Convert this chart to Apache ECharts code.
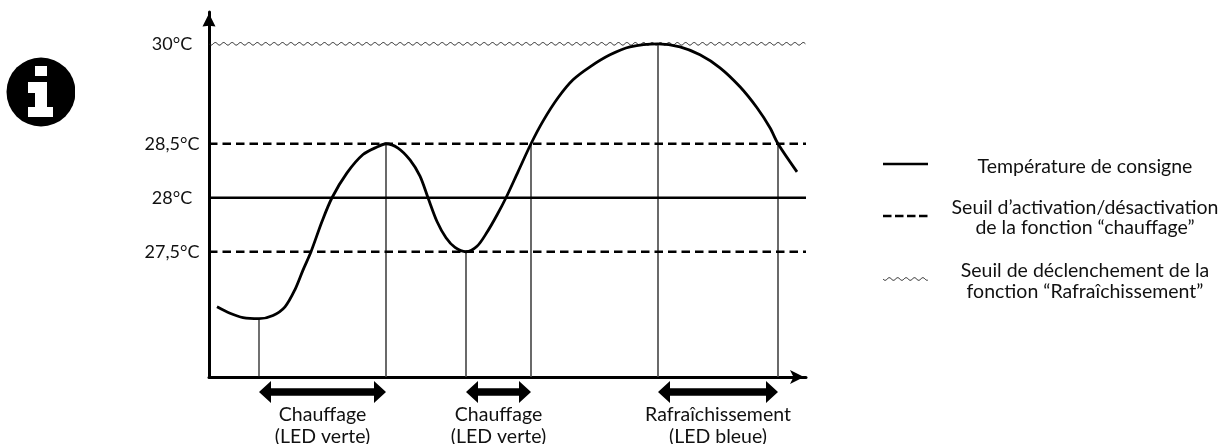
<!DOCTYPE html>
<html>
<head>
<meta charset="utf-8">
<title>Seuils de température</title>
<style>
  html, body { margin: 0; padding: 0; background: #fff; }
  #chart { width: 1223px; height: 444px; }
</style>
<script src="https://cdn.jsdelivr.net/npm/echarts@6/dist/echarts.min.js"></script>
</head>
<body>
<div id="chart"></div>
<script>
// courbe de temperature (temps arbitraire, °C)
const curveTimes = [8, 21, 34, 50, 64, 76, 86, 94, 102, 113, 123, 138, 154, 168, 177, 189, 201, 211, 219, 228, 237, 246, 257, 268, 278, 288, 297, 309, 322, 334, 349, 364, 381, 401, 421, 449, 471, 491, 511, 531, 548, 561, 569, 588];
const curveTemps = [26.99, 26.93, 26.89, 26.88, 26.91, 26.99, 27.15, 27.33, 27.5, 27.78, 28, 28.23, 28.4, 28.47, 28.5, 28.46, 28.35, 28.2, 28, 27.78, 27.63, 27.54, 27.5, 27.55, 27.68, 27.84, 28, 28.24, 28.5, 28.84, 29.19, 29.46, 29.655, 29.835, 29.955, 30, 29.955, 29.835, 29.64, 29.355, 29.04, 28.74, 28.5, 28.24];

const tickTemps = [30, 28.5, 28, 27.5];
const tickLabels = ['30°C', '28,5°C', '28°C', '27,5°C'];

const setpointTemp = 28;
const heatingTemps = [28.5, 27.5];
const coolingTemp = 30;
const lineEnd = 597;

const dropTimes = [50, 177, 257, 322, 449, 569];
const dropTemps = [26.88, 28.5, 27.5, 28.5, 30, 28.5];

const phaseStarts = [50, 257, 449];
const phaseEnds = [177, 322, 569];
const phaseNames = ['Chauffage', 'Chauffage', 'Rafraîchissement'];
const phaseLeds = ['(LED verte)', '(LED verte)', '(LED bleue)'];

const legendSolid = 'Température de consigne';
const legendDashed = 'Seuil d’activation/désactivation\nde la fonction “chauffage”';
const legendWavy = 'Seuil de déclenchement de la\nfonction “Rafraîchissement”';

const FONT = 'Lato, "Open Sans", sans-serif';
const TEXT_FONT = '19.5px ' + FONT;
const INK = '#000';
const DROP = '#444';

// l'echelle du schema n'est pas lineaire : la partie au dessus de 28,5 est tassee
const squeeze = 0.617;
const toAxis = (t) => (t <= 28.5 ? t : 28.5 + (t - 28.5) * squeeze);
const yMin = 26.34;
const yMax = 29.72;

// trace de la ligne ondulee, en pixels (purement decoratif)
const wavePoints = (x0, x1, y) => {
  const period = 8.4;
  const amp = 1.3;
  const pts = [];
  for (let x = x0; x <= x1; x += 0.7) {
    pts.push([x, y + amp * Math.sin(((x - x0) / period) * 2 * Math.PI)]);
  }
  return pts;
};

const chart = echarts.init(document.getElementById('chart'), null, { renderer: 'canvas' });

const thresholdLine = (name, t, lineStyle) => ({
  name,
  type: 'line',
  data: [[0, toAxis(t)], [lineEnd, toAxis(t)]],
  symbol: 'none',
  silent: true,
  lineStyle
});

const option = {
  animation: false,
  backgroundColor: '#fff',
  textStyle: { fontFamily: FONT },
  grid: { left: 209, top: 12, width: 597, height: 365 },
  xAxis: {
    type: 'value',
    min: 0,
    max: lineEnd,
    axisLine: {
      show: true,
      onZero: false,
      symbol: ['none', 'path://M0 20 L10 0 L20 20 L10 15 Z'],
      symbolSize: [14, 18],
      symbolOffset: [0, -9],
      lineStyle: { color: INK, width: 3 }
    },
    axisTick: { show: false },
    axisLabel: { show: false },
    splitLine: { show: false }
  },
  yAxis: {
    type: 'value',
    min: yMin,
    max: yMax,
    axisLine: {
      show: true,
      onZero: false,
      symbol: ['none', 'path://M0 20 L10 0 L20 20 L10 19 Z'],
      symbolSize: [13, 17],
      symbolOffset: [0, -8],
      lineStyle: { color: INK, width: 3 }
    },
    axisTick: { show: false },
    splitLine: { show: false },
    axisLabel: {
      customValues: tickTemps.map(toAxis),
      align: 'center',
      margin: 37,
      color: '#111',
      fontFamily: FONT,
      fontSize: 18,
      formatter: (v) => {
        const i = tickTemps.findIndex((t) => Math.abs(toAxis(t) - v) < 0.01);
        return i < 0 ? '' : tickLabels[i];
      }
    }
  },
  series: [
    thresholdLine('Température de consigne', setpointTemp, { color: INK, width: 2.5 }),
    thresholdLine('Seuil haut chauffage', heatingTemps[0], { color: INK, width: 2.5, type: [8.5, 5] }),
    thresholdLine('Seuil bas chauffage', heatingTemps[1], { color: INK, width: 2.5, type: [8.5, 5] }),
    {
      name: 'Seuil rafraîchissement',
      type: 'custom',
      silent: true,
      clip: false,
      data: [[0, toAxis(coolingTemp), lineEnd]],
      renderItem: (params, api) => {
        const a = api.coord([api.value(0), api.value(1)]);
        const b = api.coord([api.value(2), api.value(1)]);
        return {
          type: 'polyline',
          shape: { points: wavePoints(a[0], b[0], a[1]) },
          style: { fill: 'none', stroke: '#222', lineWidth: 1 }
        };
      }
    },
    {
      name: 'Repères',
      type: 'custom',
      silent: true,
      data: dropTimes.map((x, i) => [x, toAxis(dropTemps[i])]),
      renderItem: (params, api) => {
        const top = api.coord([api.value(0), api.value(1)]);
        const bottom = api.coord([api.value(0), yMin]);
        const first = params.dataIndex === 0;
        return {
          type: 'line',
          shape: { x1: top[0], y1: top[1], x2: top[0], y2: bottom[1] },
          style: { stroke: first ? '#111' : DROP, lineWidth: first ? 1.2 : 1.6 }
        };
      }
    },
    {
      name: 'Température',
      type: 'line',
      data: curveTimes.map((x, i) => [x, toAxis(curveTemps[i])]),
      smooth: 0.3,
      symbol: 'none',
      silent: true,
      lineStyle: { color: INK, width: 2.8 },
      z: 5
    },
    {
      name: 'Phases',
      type: 'custom',
      silent: true,
      clip: false,
      data: phaseStarts.map((x, i) => [x, phaseEnds[i], i]),
      renderItem: (params, api) => {
        const x0 = api.coord([api.value(0), yMin]);
        const x1 = api.coord([api.value(1), yMin]);
        const i = api.value(2);
        const y = x0[1] + 15;
        const head = 12;
        const thick = 3.7;
        const wing = 11;
        const l = x0[0];
        const r = x1[0];
        const mid = (l + r) / 2;
        return {
          type: 'group',
          children: [
            {
              type: 'polygon',
              shape: {
                points: [
                  [l, y], [l + head, y - wing], [l + head, y - thick], [r - head, y - thick], [r - head, y - wing],
                  [r, y], [r - head, y + wing], [r - head, y + thick], [l + head, y + thick], [l + head, y + wing]
                ]
              },
              style: { fill: INK }
            },
            {
              type: 'text',
              style: {
                x: mid,
                y: x0[1] + 38,
                text: phaseNames[i],
                align: 'center',
                verticalAlign: 'middle',
                font: TEXT_FONT,
                fill: '#111'
              }
            },
            {
              type: 'text',
              style: {
                x: mid,
                y: x0[1] + 60,
                text: phaseLeds[i],
                align: 'center',
                verticalAlign: 'middle',
                font: TEXT_FONT,
                fill: '#111'
              }
            }
          ]
        };
      }
    }
  ],
  graphic: [
    // icone info
    { type: 'circle', shape: { cx: 41, cy: 92, r: 34.5 }, style: { fill: INK } },
    { type: 'rect', shape: { x: 75, y: 50, width: 12, height: 84 }, style: { fill: '#fff' } },
    { type: 'rect', shape: { x: 35, y: 66, width: 12, height: 10 }, style: { fill: '#fff' } },
    {
      type: 'polygon',
      shape: { points: [[28, 82], [47, 82], [47, 107], [53, 107], [53, 117], [28, 117], [28, 107], [35, 107], [35, 93], [28, 93]] },
      style: { fill: '#fff' }
    },
    // legende
    { type: 'line', shape: { x1: 883, y1: 164, x2: 928, y2: 164 }, style: { stroke: INK, lineWidth: 2.5 } },
    { type: 'line', shape: { x1: 883, y1: 216, x2: 928, y2: 216 }, style: { stroke: INK, lineWidth: 2.5, lineDash: [8.5, 3.5] } },
    { type: 'polyline', shape: { points: wavePoints(883, 928, 279) }, style: { fill: 'none', stroke: '#222', lineWidth: 1 } },
    { type: 'text', style: { x: 1085, y: 167, text: legendSolid, align: 'center', verticalAlign: 'middle', font: TEXT_FONT, fill: '#111' } },
    { type: 'text', style: { x: 1085, y: 218, text: legendDashed, align: 'center', verticalAlign: 'middle', font: TEXT_FONT, fill: '#111', lineHeight: 20 } },
    { type: 'text', style: { x: 1085, y: 281, text: legendWavy, align: 'center', verticalAlign: 'middle', font: TEXT_FONT, fill: '#111', lineHeight: 21 } }
  ]
};

chart.setOption(option);
</script>
</body>
</html>
